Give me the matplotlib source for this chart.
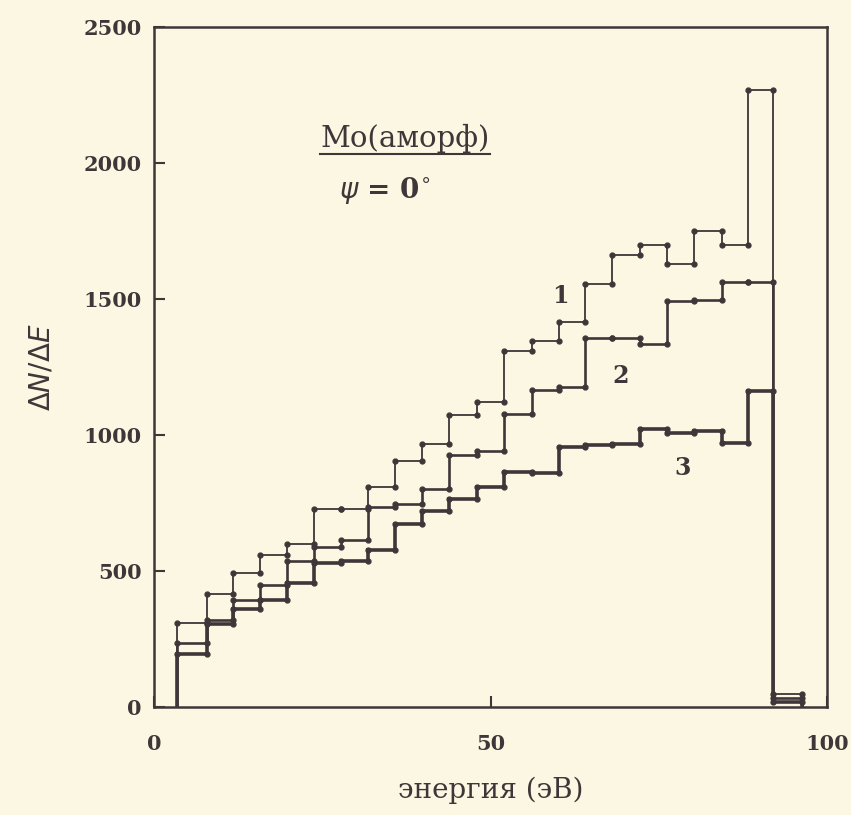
import numpy as np
import matplotlib.pyplot as plt

# bin edges (eV) and dN/dE values
edges = [3.4, 7.8, 11.8, 15.8, 19.8, 23.8, 27.8, 31.8, 35.8, 39.8, 43.8, 48.0,
         52.0, 56.2, 60.2, 64.0, 68.1, 72.2, 76.2, 80.2, 84.4, 88.3, 92.0, 96.3]
curve1 = [307, 413, 493, 558, 597, 726, 727, 806, 904, 966, 1072, 1122,
          1309, 1344, 1415, 1555, 1660, 1698, 1627, 1751, 1699, 2268, 45]
curve2 = [235, 320, 391, 447, 534, 586, 611, 733, 744, 800, 925, 941,
          1075, 1165, 1175, 1357, 1356, 1332, 1493, 1494, 1563, 1563, 30]
curve3 = [192, 304, 358, 392, 456, 530, 537, 576, 670, 721, 765, 806,
          862, 859, 954, 964, 965, 1020, 1008, 1014, 971, 1160, 18]
curve_names = ['1', '2', '3']
label_pos = [(60.3, 1512), (69.3, 1217), (78.5, 879)]
xticks = [0, 50, 100]
yticks = [0, 500, 1000, 1500, 2000, 2500]

paper = '#fbf7e2'
ink = '#3e3638'

fig = plt.figure(figsize=(8.51, 8.15), dpi=100, facecolor=paper)
ax = fig.add_axes([0.181, 0.133, 0.791, 0.834], facecolor=paper)

e = np.array(edges)
widths = [1.3, 1.9, 2.6]
for vals, lw in zip([curve1, curve2, curve3], widths):
    v = np.array(vals)
    ax.stairs(v, e, baseline=0, color=ink, lw=lw)
    ax.plot(e[:-1], v, 'o', color=ink, ms=3.5)
    ax.plot(e[1:], v, 'o', color=ink, ms=3.5)

for name, (lx, ly) in zip(curve_names, label_pos):
    ax.text(lx, ly, name, fontsize=17, fontweight='bold', family='DejaVu Serif',
            color=ink, ha='center', va='center')

t = ax.text(37.3, 2091, 'Мо(аморф)', fontsize=21, family='DejaVu Serif',
            color=ink, ha='center', va='center')
ax.text(34.3, 1899, r'$\psi$ = 0$^{\circ}$', fontsize=20, fontweight='bold',
        family='DejaVu Serif', color=ink, ha='center', va='center')

ax.set_xlim(0, 100)
ax.set_ylim(0, 2500)
ax.set_xticks(xticks)
ax.set_yticks(yticks)
ax.tick_params(direction='in', length=8, width=1.5, color=ink, labelcolor=ink,
               labelsize=15)
ax.tick_params(axis='x', pad=20)
ax.tick_params(axis='y', pad=9)
for lab in ax.get_xticklabels() + ax.get_yticklabels():
    lab.set_fontweight('bold')
    lab.set_family('DejaVu Serif')
for s in ax.spines.values():
    s.set_linewidth(1.8)
    s.set_color(ink)

ax.set_xlabel('энергия (эВ)', fontsize=20, family='DejaVu Serif', color=ink,
              labelpad=16)
ax.set_ylabel(r'$\Delta N/\Delta E$', fontsize=20, color=ink, labelpad=20)

# underline the sample name
fig.canvas.draw()
bb = t.get_window_extent(fig.canvas.get_renderer())
inv = fig.transFigure.inverted()
(x0, y0), (x1, _) = inv.transform([(bb.x0, bb.y0 - 1), (bb.x1, bb.y0 - 1)])
fig.add_artist(plt.Line2D([x0, x1], [y0, y0], color=ink, lw=1.5,
                          transform=fig.transFigure))

fig.savefig('out.png', dpi=100, facecolor=paper)
